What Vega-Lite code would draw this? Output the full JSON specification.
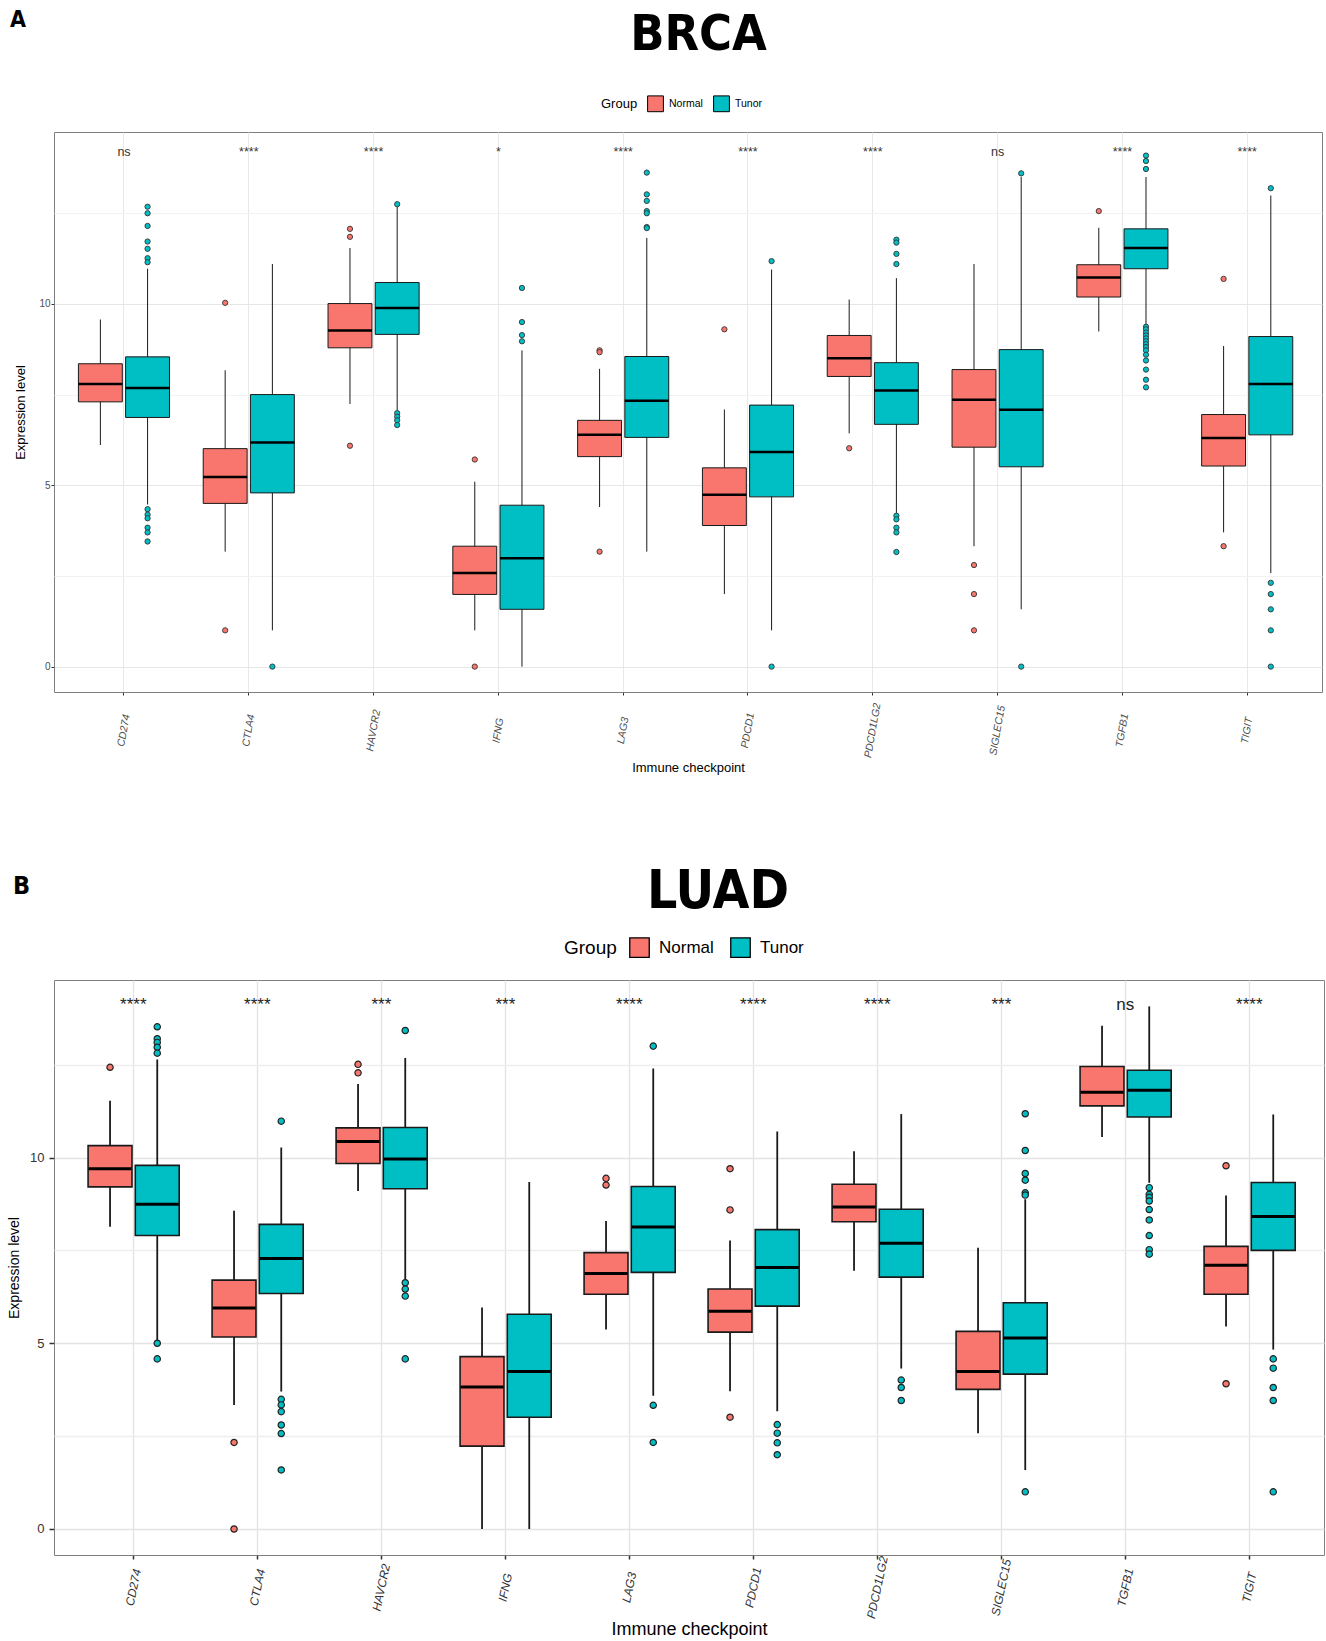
{
"$schema": "https://vega.github.io/schema/vega-lite/v6.json",
"padding": {"left": 7, "right": 0, "top": 8, "bottom": 0},
"spacing": 90,
"columns": 1,
"align": "none",
"resolve": {"scale": {"fill": "independent"}},
"config": {
  "font": "Liberation Sans",
  "view": {"stroke": "#808080", "strokeWidth": 1},
  "axis": {"labelFont": "Liberation Sans", "titleFont": "Liberation Sans"},
  "legend": {"labelFont": "Liberation Sans", "titleFont": "Liberation Sans"}
},
"datasets": {
  "boxA": [
    {"gene":"CD274","group":"Normal","lower":6.11,"q1":7.30,"median":7.79,"q3":8.35,"upper":9.57},
    {"gene":"CD274","group":"Tunor","lower":4.47,"q1":6.87,"median":7.68,"q3":8.54,"upper":10.97},
    {"gene":"CTLA4","group":"Normal","lower":3.17,"q1":4.50,"median":5.23,"q3":6.01,"upper":8.17},
    {"gene":"CTLA4","group":"Tunor","lower":1.0,"q1":4.79,"median":6.18,"q3":7.50,"upper":11.1},
    {"gene":"HAVCR2","group":"Normal","lower":7.24,"q1":8.79,"median":9.27,"q3":10.01,"upper":11.54},
    {"gene":"HAVCR2","group":"Tunor","lower":7.07,"q1":9.16,"median":9.89,"q3":10.59,"upper":12.68},
    {"gene":"IFNG","group":"Normal","lower":1.0,"q1":1.99,"median":2.58,"q3":3.32,"upper":5.10},
    {"gene":"IFNG","group":"Tunor","lower":0,"q1":1.58,"median":2.99,"q3":4.45,"upper":8.72},
    {"gene":"LAG3","group":"Normal","lower":4.40,"q1":5.79,"median":6.39,"q3":6.79,"upper":8.21},
    {"gene":"LAG3","group":"Tunor","lower":3.17,"q1":6.32,"median":7.33,"q3":8.55,"upper":11.82},
    {"gene":"PDCD1","group":"Normal","lower":2.0,"q1":3.89,"median":4.74,"q3":5.48,"upper":7.09},
    {"gene":"PDCD1","group":"Tunor","lower":1.0,"q1":4.68,"median":5.92,"q3":7.21,"upper":10.95},
    {"gene":"PDCD1LG2","group":"Normal","lower":6.43,"q1":8.0,"median":8.5,"q3":9.13,"upper":10.12},
    {"gene":"PDCD1LG2","group":"Tunor","lower":4.21,"q1":6.68,"median":7.61,"q3":8.38,"upper":10.71},
    {"gene":"SIGLEC15","group":"Normal","lower":3.32,"q1":6.05,"median":7.36,"q3":8.19,"upper":11.1},
    {"gene":"SIGLEC15","group":"Tunor","lower":1.58,"q1":5.51,"median":7.08,"q3":8.74,"upper":13.5},
    {"gene":"TGFB1","group":"Normal","lower":9.24,"q1":10.19,"median":10.73,"q3":11.08,"upper":12.1},
    {"gene":"TGFB1","group":"Tunor","lower":9.40,"q1":10.97,"median":11.54,"q3":12.07,"upper":13.5},
    {"gene":"TIGIT","group":"Normal","lower":3.70,"q1":5.53,"median":6.30,"q3":6.95,"upper":8.84},
    {"gene":"TIGIT","group":"Tunor","lower":2.58,"q1":6.39,"median":7.79,"q3":9.10,"upper":12.99}
  ],
  "outA": [
    {"gene":"CD274","group":"Tunor","value":12.68},{"gene":"CD274","group":"Tunor","value":12.5},{"gene":"CD274","group":"Tunor","value":12.15},{"gene":"CD274","group":"Tunor","value":11.72},{"gene":"CD274","group":"Tunor","value":11.52},{"gene":"CD274","group":"Tunor","value":11.26},{"gene":"CD274","group":"Tunor","value":11.15},{"gene":"CD274","group":"Tunor","value":4.34},{"gene":"CD274","group":"Tunor","value":4.19},{"gene":"CD274","group":"Tunor","value":4.09},{"gene":"CD274","group":"Tunor","value":3.83},{"gene":"CD274","group":"Tunor","value":3.70},{"gene":"CD274","group":"Tunor","value":3.45},
    {"gene":"CTLA4","group":"Normal","value":10.03},{"gene":"CTLA4","group":"Normal","value":1.0},{"gene":"CTLA4","group":"Tunor","value":0},
    {"gene":"HAVCR2","group":"Normal","value":12.07},{"gene":"HAVCR2","group":"Normal","value":11.85},{"gene":"HAVCR2","group":"Normal","value":6.09},
    {"gene":"HAVCR2","group":"Tunor","value":12.75},{"gene":"HAVCR2","group":"Tunor","value":6.99},{"gene":"HAVCR2","group":"Tunor","value":6.89},{"gene":"HAVCR2","group":"Tunor","value":6.79},{"gene":"HAVCR2","group":"Tunor","value":6.66},
    {"gene":"IFNG","group":"Normal","value":5.71},{"gene":"IFNG","group":"Normal","value":0},
    {"gene":"IFNG","group":"Tunor","value":10.44},{"gene":"IFNG","group":"Tunor","value":9.5},{"gene":"IFNG","group":"Tunor","value":9.14},{"gene":"IFNG","group":"Tunor","value":8.97},
    {"gene":"LAG3","group":"Normal","value":8.72},{"gene":"LAG3","group":"Normal","value":8.67},{"gene":"LAG3","group":"Normal","value":3.17},
    {"gene":"LAG3","group":"Tunor","value":13.62},{"gene":"LAG3","group":"Tunor","value":13.02},{"gene":"LAG3","group":"Tunor","value":12.84},{"gene":"LAG3","group":"Tunor","value":12.56},{"gene":"LAG3","group":"Tunor","value":12.5},{"gene":"LAG3","group":"Tunor","value":12.12},{"gene":"LAG3","group":"Tunor","value":12.09},
    {"gene":"PDCD1","group":"Normal","value":9.30},{"gene":"PDCD1","group":"Tunor","value":11.18},{"gene":"PDCD1","group":"Tunor","value":0},
    {"gene":"PDCD1LG2","group":"Normal","value":6.02},
    {"gene":"PDCD1LG2","group":"Tunor","value":11.77},{"gene":"PDCD1LG2","group":"Tunor","value":11.69},{"gene":"PDCD1LG2","group":"Tunor","value":11.38},{"gene":"PDCD1LG2","group":"Tunor","value":11.1},{"gene":"PDCD1LG2","group":"Tunor","value":4.16},{"gene":"PDCD1LG2","group":"Tunor","value":4.06},{"gene":"PDCD1LG2","group":"Tunor","value":3.83},{"gene":"PDCD1LG2","group":"Tunor","value":3.70},{"gene":"PDCD1LG2","group":"Tunor","value":3.16},
    {"gene":"SIGLEC15","group":"Normal","value":2.8},{"gene":"SIGLEC15","group":"Normal","value":2.0},{"gene":"SIGLEC15","group":"Normal","value":1.0},
    {"gene":"SIGLEC15","group":"Tunor","value":13.6},{"gene":"SIGLEC15","group":"Tunor","value":0},
    {"gene":"TGFB1","group":"Normal","value":12.56},
    {"gene":"TGFB1","group":"Tunor","value":14.09},{"gene":"TGFB1","group":"Tunor","value":13.94},{"gene":"TGFB1","group":"Tunor","value":13.72},{"gene":"TGFB1","group":"Tunor","value":9.37},{"gene":"TGFB1","group":"Tunor","value":9.30},{"gene":"TGFB1","group":"Tunor","value":9.21},{"gene":"TGFB1","group":"Tunor","value":9.13},{"gene":"TGFB1","group":"Tunor","value":9.05},{"gene":"TGFB1","group":"Tunor","value":8.97},{"gene":"TGFB1","group":"Tunor","value":8.89},{"gene":"TGFB1","group":"Tunor","value":8.81},{"gene":"TGFB1","group":"Tunor","value":8.72},{"gene":"TGFB1","group":"Tunor","value":8.60},{"gene":"TGFB1","group":"Tunor","value":8.44},{"gene":"TGFB1","group":"Tunor","value":8.19},{"gene":"TGFB1","group":"Tunor","value":7.91},{"gene":"TGFB1","group":"Tunor","value":7.70},
    {"gene":"TIGIT","group":"Normal","value":10.69},{"gene":"TIGIT","group":"Normal","value":3.32},
    {"gene":"TIGIT","group":"Tunor","value":13.19},{"gene":"TIGIT","group":"Tunor","value":2.31},{"gene":"TIGIT","group":"Tunor","value":2.0},{"gene":"TIGIT","group":"Tunor","value":1.58},{"gene":"TIGIT","group":"Tunor","value":1.0},{"gene":"TIGIT","group":"Tunor","value":0}
  ],
  "sigA": [
    {"gene":"CD274","sig":"ns"},{"gene":"CTLA4","sig":"****"},{"gene":"HAVCR2","sig":"****"},{"gene":"IFNG","sig":"*"},{"gene":"LAG3","sig":"****"},
    {"gene":"PDCD1","sig":"****"},{"gene":"PDCD1LG2","sig":"****"},{"gene":"SIGLEC15","sig":"ns"},{"gene":"TGFB1","sig":"****"},{"gene":"TIGIT","sig":"****"}
  ],
  "boxB": [
    {"gene":"CD274","group":"Normal","lower":8.14,"q1":9.21,"median":9.70,"q3":10.32,"upper":11.53},
    {"gene":"CD274","group":"Tunor","lower":5.05,"q1":7.90,"median":8.74,"q3":9.79,"upper":12.64},
    {"gene":"CTLA4","group":"Normal","lower":3.34,"q1":5.17,"median":5.95,"q3":6.70,"upper":8.57},
    {"gene":"CTLA4","group":"Tunor","lower":3.70,"q1":6.34,"median":7.28,"q3":8.20,"upper":10.27},
    {"gene":"HAVCR2","group":"Normal","lower":9.10,"q1":9.84,"median":10.43,"q3":10.80,"upper":11.98},
    {"gene":"HAVCR2","group":"Tunor","lower":6.68,"q1":9.16,"median":9.96,"q3":10.81,"upper":12.68},
    {"gene":"IFNG","group":"Normal","lower":0,"q1":2.23,"median":3.82,"q3":4.64,"upper":5.96},
    {"gene":"IFNG","group":"Tunor","lower":0,"q1":3.01,"median":4.24,"q3":5.78,"upper":9.34},
    {"gene":"LAG3","group":"Normal","lower":5.37,"q1":6.32,"median":6.88,"q3":7.44,"upper":8.29},
    {"gene":"LAG3","group":"Tunor","lower":3.59,"q1":6.91,"median":8.13,"q3":9.22,"upper":12.40},
    {"gene":"PDCD1","group":"Normal","lower":3.71,"q1":5.30,"median":5.86,"q3":6.46,"upper":7.77},
    {"gene":"PDCD1","group":"Tunor","lower":3.17,"q1":6.0,"median":7.04,"q3":8.06,"upper":10.70},
    {"gene":"PDCD1LG2","group":"Normal","lower":6.95,"q1":8.27,"median":8.67,"q3":9.28,"upper":10.17},
    {"gene":"PDCD1LG2","group":"Tunor","lower":4.32,"q1":6.78,"median":7.69,"q3":8.61,"upper":11.17},
    {"gene":"SIGLEC15","group":"Normal","lower":2.58,"q1":3.76,"median":4.24,"q3":5.32,"upper":7.57},
    {"gene":"SIGLEC15","group":"Tunor","lower":1.59,"q1":4.17,"median":5.14,"q3":6.09,"upper":8.88},
    {"gene":"TGFB1","group":"Normal","lower":10.55,"q1":11.39,"median":11.76,"q3":12.45,"upper":13.55},
    {"gene":"TGFB1","group":"Tunor","lower":9.32,"q1":11.09,"median":11.81,"q3":12.35,"upper":14.07},
    {"gene":"TIGIT","group":"Normal","lower":5.45,"q1":6.32,"median":7.10,"q3":7.61,"upper":8.98},
    {"gene":"TIGIT","group":"Tunor","lower":4.83,"q1":7.50,"median":8.41,"q3":9.33,"upper":11.16}
  ],
  "outB": [
    {"gene":"CD274","group":"Normal","value":12.43},
    {"gene":"CD274","group":"Tunor","value":13.52},{"gene":"CD274","group":"Tunor","value":13.2},{"gene":"CD274","group":"Tunor","value":13.1},{"gene":"CD274","group":"Tunor","value":12.97},{"gene":"CD274","group":"Tunor","value":12.81},{"gene":"CD274","group":"Tunor","value":5.0},{"gene":"CD274","group":"Tunor","value":4.58},
    {"gene":"CTLA4","group":"Normal","value":2.33},{"gene":"CTLA4","group":"Normal","value":0},
    {"gene":"CTLA4","group":"Tunor","value":10.98},{"gene":"CTLA4","group":"Tunor","value":3.49},{"gene":"CTLA4","group":"Tunor","value":3.34},{"gene":"CTLA4","group":"Tunor","value":3.16},{"gene":"CTLA4","group":"Tunor","value":2.80},{"gene":"CTLA4","group":"Tunor","value":2.57},{"gene":"CTLA4","group":"Tunor","value":1.59},
    {"gene":"HAVCR2","group":"Normal","value":12.51},{"gene":"HAVCR2","group":"Normal","value":12.28},
    {"gene":"HAVCR2","group":"Tunor","value":13.42},{"gene":"HAVCR2","group":"Tunor","value":6.63},{"gene":"HAVCR2","group":"Tunor","value":6.46},{"gene":"HAVCR2","group":"Tunor","value":6.27},{"gene":"HAVCR2","group":"Tunor","value":4.58},
    {"gene":"LAG3","group":"Normal","value":9.44},{"gene":"LAG3","group":"Normal","value":9.26},
    {"gene":"LAG3","group":"Tunor","value":13.0},{"gene":"LAG3","group":"Tunor","value":3.33},{"gene":"LAG3","group":"Tunor","value":2.33},
    {"gene":"PDCD1","group":"Normal","value":9.70},{"gene":"PDCD1","group":"Normal","value":8.59},{"gene":"PDCD1","group":"Normal","value":3.01},
    {"gene":"PDCD1","group":"Tunor","value":2.81},{"gene":"PDCD1","group":"Tunor","value":2.58},{"gene":"PDCD1","group":"Tunor","value":2.32},{"gene":"PDCD1","group":"Tunor","value":2.0},
    {"gene":"PDCD1LG2","group":"Tunor","value":4.01},{"gene":"PDCD1LG2","group":"Tunor","value":3.81},{"gene":"PDCD1LG2","group":"Tunor","value":3.46},
    {"gene":"SIGLEC15","group":"Tunor","value":11.18},{"gene":"SIGLEC15","group":"Tunor","value":10.19},{"gene":"SIGLEC15","group":"Tunor","value":9.57},{"gene":"SIGLEC15","group":"Tunor","value":9.39},{"gene":"SIGLEC15","group":"Tunor","value":9.05},{"gene":"SIGLEC15","group":"Tunor","value":8.99},{"gene":"SIGLEC15","group":"Tunor","value":1.0},
    {"gene":"TGFB1","group":"Tunor","value":9.19},{"gene":"TGFB1","group":"Tunor","value":9.01},{"gene":"TGFB1","group":"Tunor","value":8.93},{"gene":"TGFB1","group":"Tunor","value":8.83},{"gene":"TGFB1","group":"Tunor","value":8.60},{"gene":"TGFB1","group":"Tunor","value":8.32},{"gene":"TGFB1","group":"Tunor","value":7.90},{"gene":"TGFB1","group":"Tunor","value":7.52},{"gene":"TGFB1","group":"Tunor","value":7.40},
    {"gene":"TIGIT","group":"Normal","value":9.78},{"gene":"TIGIT","group":"Normal","value":3.91},
    {"gene":"TIGIT","group":"Tunor","value":4.58},{"gene":"TIGIT","group":"Tunor","value":4.33},{"gene":"TIGIT","group":"Tunor","value":3.81},{"gene":"TIGIT","group":"Tunor","value":3.46},{"gene":"TIGIT","group":"Tunor","value":1.0}
  ],
  "sigB": [
    {"gene":"CD274","sig":"****"},{"gene":"CTLA4","sig":"****"},{"gene":"HAVCR2","sig":"***"},{"gene":"IFNG","sig":"***"},{"gene":"LAG3","sig":"****"},
    {"gene":"PDCD1","sig":"****"},{"gene":"PDCD1LG2","sig":"****"},{"gene":"SIGLEC15","sig":"***"},{"gene":"TGFB1","sig":"ns"},{"gene":"TIGIT","sig":"****"}
  ]
},
"concat": [
  {
    "title": {"text": "A", "anchor": "start", "frame": "bounds", "fontSize": 23, "fontWeight": "bold", "font": "DejaVu Sans Condensed, sans-serif", "offset": -22, "dx": -4, "color": "#000"},
    "vconcat": [
      {
        "width": 1268, "height": 560,
        "title": {"text": "BRCA", "fontSize": 50, "font": "DejaVu Sans Condensed, sans-serif", "fontWeight": "bold", "anchor": "middle", "frame": "group", "dx": 10.5, "offset": 72, "color": "#000"},
        "layer": [
          {
            "data": {"name": "boxA"},
            "mark": {"type": "rule", "color": "#1a1a1a", "strokeWidth": 1},
            "encoding": {
              "x": {"field": "gene", "type": "nominal", "sort": null,
                    "scale": {"type": "band", "paddingInner": 0.27, "paddingOuter": 0.215, "align": 0.455},
                    "axis": {"title": "Immune checkpoint", "titleFontSize": 13, "titleFontWeight": "normal", "titleColor": "#000", "titlePadding": 3,
                             "labelAngle": -80, "labelAlign": "center", "labelBaseline": "middle", "labelFontSize": 10.5, "labelFontStyle": "italic", "labelColor": "#4d4d4d", "labelPadding": 35,
                             "tickSize": 3, "tickColor": "#333", "domain": false, "grid": true, "gridColor": "#e8e8e8", "bandPosition": 0.5}},
              "xOffset": {"field": "group", "type": "nominal", "scale": {"domain": ["Normal", "Tunor"], "paddingInner": 0.07, "paddingOuter": 0}},
              "y": {"field": "lower", "type": "quantitative",
                    "scale": {"domain": [-0.7, 14.74], "nice": false, "zero": false},
                    "axis": {"title": "Expression level", "titleFontSize": 13, "titleFontWeight": "normal", "titleColor": "#000", "titlePadding": 11.5,
                             "values": [0, 2.5, 5, 7.5, 10, 12.5], "labelExpr": "datum.value % 5 === 0 ? datum.label : ''",
                             "labelFontSize": 10, "labelColor": "#4d4d4d", "labelPadding": 1, "tickSize": 3,
                             "tickColor": {"condition": {"test": "datum.value % 5 !== 0", "value": "transparent"}, "value": "#333"},
                             "domain": false, "grid": true,
                             "gridColor": {"condition": {"test": "datum.value % 5 !== 0", "value": "#f2f2f2"}, "value": "#e6e6e6"}}},
              "y2": {"field": "upper"}
            }
          },
          {
            "data": {"name": "boxA"},
            "mark": {"type": "bar", "stroke": "#1a1a1a", "strokeWidth": 1},
            "encoding": {
              "x": {"field": "gene", "type": "nominal", "sort": null},
              "xOffset": {"field": "group", "type": "nominal"},
              "y": {"field": "q1", "type": "quantitative"},
              "y2": {"field": "q3"},
              "fill": {"field": "group", "type": "nominal",
                       "scale": {"domain": ["Normal", "Tunor"], "range": ["#F8766D", "#00BFC4"]},
                       "legend": {"orient": "none", "legendX": 547, "legendY": -37, "direction": "horizontal", "title": "Group", "titleOrient": "left",
                                  "titleFontSize": 13, "titleFontWeight": "normal", "titleColor": "#000", "labelFontSize": 10.5, "labelColor": "#000",
                                  "symbolType": "square", "symbolSize": 250, "symbolStrokeColor": "#000", "symbolStrokeWidth": 1, "symbolOpacity": 1,
                                  "columnPadding": 8, "labelOffset": 5, "titlePadding": 9}}
            }
          },
          {
            "data": {"name": "boxA"},
            "mark": {"type": "tick", "color": "#000", "thickness": 2.5, "size": 44, "orient": "horizontal", "opacity": 1},
            "encoding": {
              "x": {"field": "gene", "type": "nominal", "sort": null},
              "xOffset": {"field": "group", "type": "nominal"},
              "y": {"field": "median", "type": "quantitative"}
            }
          },
          {
            "data": {"name": "outA"},
            "mark": {"type": "point", "filled": true, "shape": "circle", "size": 28, "stroke": "#333", "strokeWidth": 0.9, "opacity": 1},
            "encoding": {
              "x": {"field": "gene", "type": "nominal", "sort": null},
              "xOffset": {"field": "group", "type": "nominal"},
              "y": {"field": "value", "type": "quantitative"},
              "fill": {"field": "group", "type": "nominal", "legend": null}
            }
          },
          {
            "data": {"name": "sigA"},
            "mark": {"type": "text", "fontSize": 12.5, "color": "#333", "baseline": "middle"},
            "encoding": {
              "x": {"field": "gene", "type": "nominal", "sort": null},
              "y": {"datum": 14.2},
              "text": {"field": "sig"}
            }
          }
        ]
      }
    ]
  },
  {
    "title": {"text": "B", "anchor": "start", "frame": "bounds", "fontSize": 25, "fontWeight": "bold", "font": "DejaVu Sans Condensed, sans-serif", "offset": -33, "dx": 6, "color": "#000"},
    "vconcat": [
      {
        "width": 1270, "height": 575,
        "title": {"text": "LUAD", "fontSize": 53, "font": "DejaVu Sans Condensed, sans-serif", "fontWeight": "bold", "anchor": "middle", "frame": "group", "dx": 29, "offset": 61, "color": "#000"},
        "layer": [
          {
            "data": {"name": "boxB"},
            "mark": {"type": "rule", "color": "#1a1a1a", "strokeWidth": 1.8},
            "encoding": {
              "x": {"field": "gene", "type": "nominal", "sort": null,
                    "scale": {"type": "band", "paddingInner": 0.27, "paddingOuter": 0.256, "align": 0.537},
                    "axis": {"title": "Immune checkpoint", "titleFontSize": 18, "titleFontWeight": "normal", "titleColor": "#000", "titlePadding": 1,
                             "labelAngle": -78, "labelAlign": "center", "labelBaseline": "middle", "labelFontSize": 12, "labelFontStyle": "italic", "labelColor": "#333", "labelPadding": 28,
                             "tickSize": 4, "tickColor": "#333", "tickWidth": 1.5, "domain": false, "grid": true, "gridColor": "#e3e3e3", "gridWidth": 1.3, "bandPosition": 0.5}},
              "xOffset": {"field": "group", "type": "nominal", "scale": {"domain": ["Normal", "Tunor"], "paddingInner": 0.08, "paddingOuter": 0}},
              "y": {"field": "lower", "type": "quantitative",
                    "scale": {"domain": [-0.7, 14.78], "nice": false, "zero": false},
                    "axis": {"title": "Expression level", "titleFontSize": 14, "titleFontWeight": "normal", "titleColor": "#000", "titlePadding": 8,
                             "values": [0, 2.5, 5, 7.5, 10, 12.5], "labelExpr": "datum.value % 5 === 0 ? datum.label : ''",
                             "labelFontSize": 13, "labelColor": "#333", "labelPadding": 5, "tickSize": 5, "tickWidth": 1.5,
                             "tickColor": {"condition": {"test": "datum.value % 5 !== 0", "value": "transparent"}, "value": "#333"},
                             "domain": false, "grid": true, "gridWidth": 1.3,
                             "gridColor": {"condition": {"test": "datum.value % 5 !== 0", "value": "#eeeeee"}, "value": "#e3e3e3"}}},
              "y2": {"field": "upper"}
            }
          },
          {
            "data": {"name": "boxB"},
            "mark": {"type": "bar", "stroke": "#1a1a1a", "strokeWidth": 1.6},
            "encoding": {
              "x": {"field": "gene", "type": "nominal", "sort": null},
              "xOffset": {"field": "group", "type": "nominal"},
              "y": {"field": "q1", "type": "quantitative"},
              "y2": {"field": "q3"},
              "fill": {"field": "group", "type": "nominal",
                       "scale": {"domain": ["Normal", "Tunor"], "range": ["#F8766D", "#00BFC4"]},
                       "legend": {"orient": "none", "legendX": 510, "legendY": -43, "direction": "horizontal", "title": "Group", "titleOrient": "left",
                                  "titleFontSize": 19, "titleFontWeight": "normal", "titleColor": "#000", "labelFontSize": 17, "labelColor": "#000",
                                  "symbolType": "square", "symbolSize": 380, "symbolStrokeColor": "#000", "symbolStrokeWidth": 1.3, "symbolOpacity": 1,
                                  "columnPadding": 14, "labelOffset": 9, "titlePadding": 12}}
            }
          },
          {
            "data": {"name": "boxB"},
            "mark": {"type": "tick", "color": "#000", "thickness": 3, "size": 43, "orient": "horizontal", "opacity": 1},
            "encoding": {
              "x": {"field": "gene", "type": "nominal", "sort": null},
              "xOffset": {"field": "group", "type": "nominal"},
              "y": {"field": "median", "type": "quantitative"}
            }
          },
          {
            "data": {"name": "outB"},
            "mark": {"type": "point", "filled": true, "shape": "circle", "size": 40, "stroke": "#222", "strokeWidth": 1.2, "opacity": 1},
            "encoding": {
              "x": {"field": "gene", "type": "nominal", "sort": null},
              "xOffset": {"field": "group", "type": "nominal"},
              "y": {"field": "value", "type": "quantitative"},
              "fill": {"field": "group", "type": "nominal", "legend": null}
            }
          },
          {
            "data": {"name": "sigB"},
            "mark": {"type": "text", "fontSize": 17, "color": "#222", "baseline": "middle"},
            "encoding": {
              "x": {"field": "gene", "type": "nominal", "sort": null},
              "y": {"datum": 14.1},
              "text": {"field": "sig"}
            }
          }
        ]
      }
    ]
  }
]
}
